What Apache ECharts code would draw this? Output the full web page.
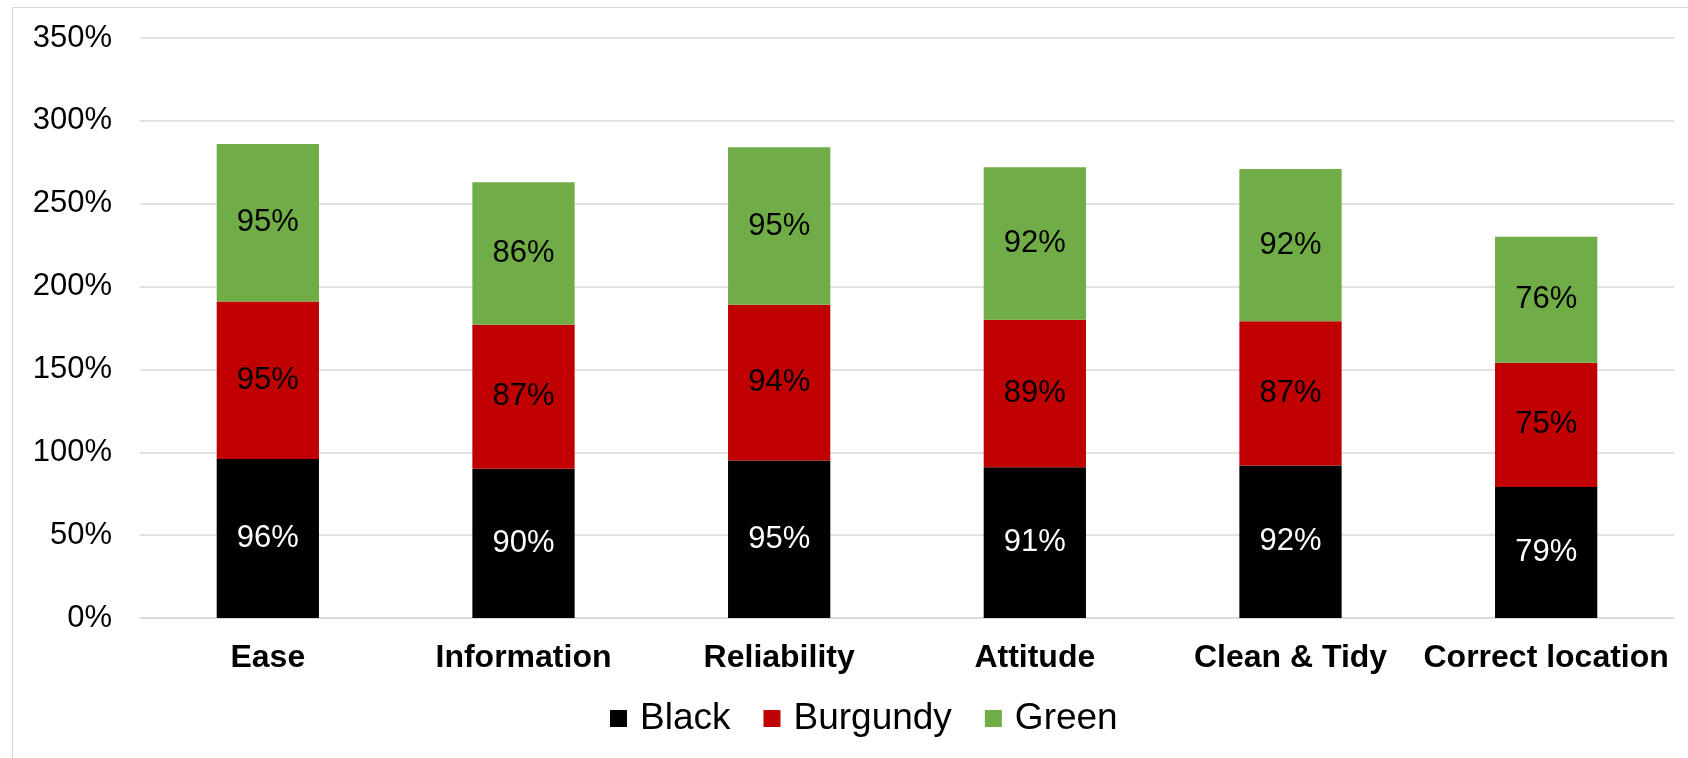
<!DOCTYPE html>
<html>
<head>
<meta charset="utf-8">
<script src="https://cdn.jsdelivr.net/npm/echarts@6/dist/echarts.min.js"></script>
<style>
html,body{margin:0;padding:0;background:#fff;}
#frame{position:absolute;left:12px;top:7px;width:1700px;height:800px;border:1.5px solid #d9d9d9;box-sizing:border-box;}
#chart{position:absolute;left:0;top:0;width:1688px;height:758px;}
</style>
</head>
<body>
<div id="frame"></div>
<div id="chart"></div>
<script>
const categories = ['Ease', 'Information', 'Reliability', 'Attitude', 'Clean & Tidy', 'Correct location'];
const blackValues = [96, 90, 95, 91, 92, 79];
const burgundyValues = [95, 87, 94, 89, 87, 75];
const greenValues = [95, 86, 95, 92, 92, 76];
const seriesNames = ['Black', 'Burgundy', 'Green'];

const FONT = '"Liberation Sans", Arial, sans-serif';
const chart = echarts.init(document.getElementById('chart'));

function mk(name, data, color, labelColor) {
  return {
    name: name, type: 'bar', stack: 'total', data: data, barWidth: '40%',
    itemStyle: { color: color },
    label: { show: true, position: 'inside', formatter: p => p.value + '%', color: labelColor, fontSize: 31, fontFamily: FONT },
    emphasis: { disabled: true }
  };
}

chart.setOption({
  animation: false,
  textStyle: { fontFamily: FONT },
  grid: { left: 140, right: 14, top: 38, bottom: 140 },
  legend: {
    data: seriesNames, bottom: 16, left: 605,
    icon: 'rect', itemWidth: 17, itemHeight: 17, itemGap: 33,
    textStyle: { fontSize: 37, color: '#000', fontFamily: FONT, padding: [0, 0, 0, 8] }
  },
  xAxis: {
    type: 'category', data: categories,
    axisLine: { lineStyle: { color: '#d9d9d9', width: 1.5 } },
    axisTick: { show: false },
    axisLabel: { fontSize: 32, fontWeight: 'bold', color: '#000', margin: 24, fontFamily: FONT, interval: 0 }
  },
  yAxis: {
    type: 'value', min: 0, max: 350, interval: 50,
    axisLine: { show: false }, axisTick: { show: false },
    splitLine: { lineStyle: { color: '#d9d9d9', width: 1.5 } },
    axisLabel: { fontSize: 31, color: '#000', margin: 28, formatter: v => v + '%', fontFamily: FONT }
  },
  series: [
    mk(seriesNames[0], blackValues, '#000000', '#ffffff'),
    mk(seriesNames[1], burgundyValues, '#C00000', '#000000'),
    mk(seriesNames[2], greenValues, '#70AD47', '#000000')
  ]
});
</script>
</body>
</html>
